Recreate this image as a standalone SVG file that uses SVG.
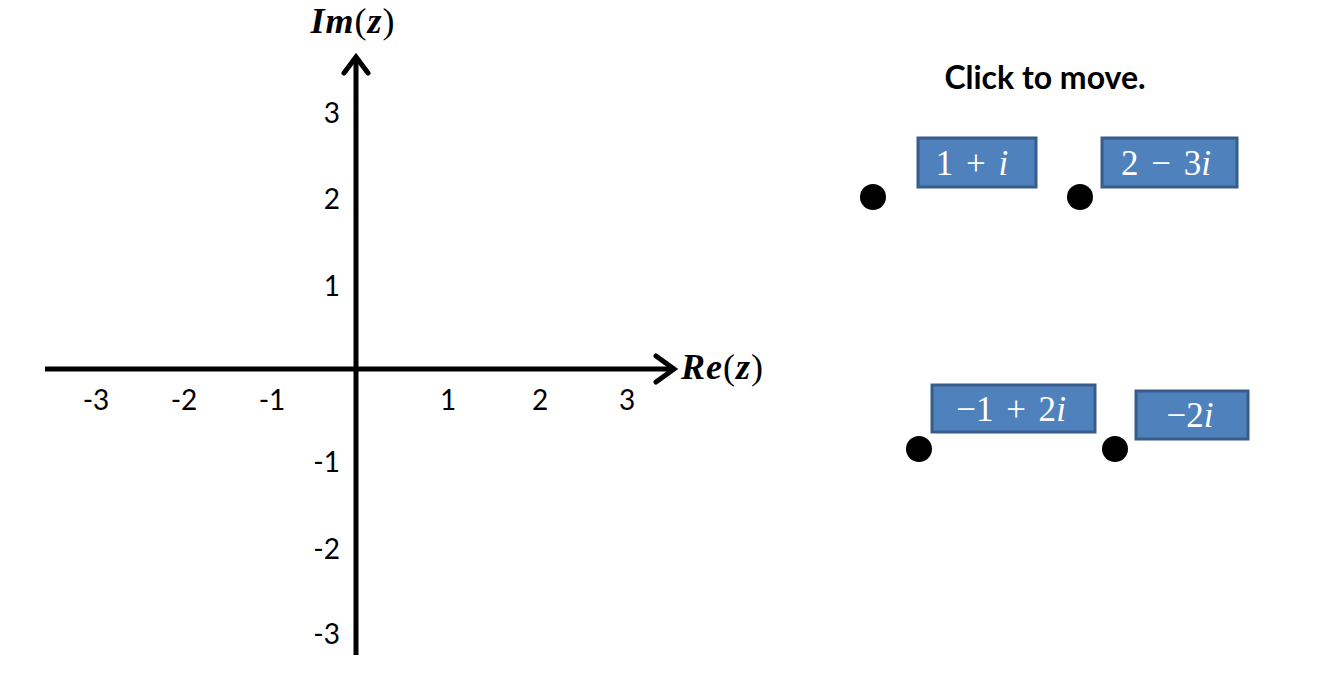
<svg xmlns="http://www.w3.org/2000/svg" width="1334" height="680" viewBox="0 0 1334 680">
<style>
.axis{stroke:#000;stroke-width:5;fill:none;stroke-linecap:butt}
.head{stroke:#000;stroke-width:5;fill:none;stroke-linecap:round;stroke-linejoin:miter}
.tick{font-family:Lato,"Liberation Sans",sans-serif;font-size:28px;fill:#000}
.math{font-family:"Liberation Serif","DejaVu Serif",serif;font-style:italic;font-weight:bold;font-size:36px;fill:#000;letter-spacing:1px}
.p{font-weight:normal;font-style:normal}
.box{fill:#4F81BD;stroke:#385D8A;stroke-width:3}
.bt{font-family:"Liberation Serif","DejaVu Serif",serif;font-size:35px;fill:#fff;text-anchor:middle;word-spacing:4px}
.dot{fill:#000}
</style>
<rect width="1334" height="680" fill="#fff"/>
<g id="connectors">
<line class="axis" x1="45" y1="369" x2="674" y2="369"/>
<polyline class="head" points="656,356 674,369 656,382"/>
<line class="axis" x1="356" y1="655" x2="356" y2="57"/>
<polyline class="head" points="344,73 356,57 368,73"/>
</g>
<g id="axis-labels">
<text class="math" x="353" y="33" text-anchor="middle">Im<tspan class="p">(</tspan>z<tspan class="p">)</tspan></text>
<text class="math" x="681" y="379">Re<tspan class="p">(</tspan>z<tspan class="p">)</tspan></text>
</g>
<g id="x-ticks" class="tick" text-anchor="middle">
<text x="96" y="410">-3</text>
<text x="184" y="410">-2</text>
<text x="272" y="410">-1</text>
<text x="448" y="410">1</text>
<text x="540" y="410">2</text>
<text x="627" y="410">3</text>
</g>
<g id="y-ticks" class="tick" text-anchor="end">
<text x="340" y="123">3</text>
<text x="340" y="209">2</text>
<text x="340" y="296">1</text>
<text x="340" y="472">-1</text>
<text x="340" y="559">-2</text>
<text x="340" y="644">-3</text>
</g>
<g id="title">
<text x="1045" y="89" text-anchor="middle" font-family="Lato,'Open Sans',sans-serif" font-weight="bold" font-size="32">Click to move.</text>
</g>
<g id="node-1">
<circle class="dot" cx="873" cy="197" r="13"/>
<rect class="box" x="918" y="138" width="118" height="49"/>
<text class="bt" x="972" y="175">1 + <tspan font-style="italic">i</tspan></text>
</g>
<g id="node-2">
<circle class="dot" cx="1080" cy="197" r="13"/>
<rect class="box" x="1102" y="138" width="135" height="49"/>
<text class="bt" x="1166" y="175">2 − 3<tspan font-style="italic">i</tspan></text>
</g>
<g id="node-3">
<circle class="dot" cx="919" cy="449" r="13"/>
<rect class="box" x="932" y="385" width="163" height="47"/>
<text class="bt" x="1011" y="421">−1 + 2<tspan font-style="italic">i</tspan></text>
</g>
<g id="node-4">
<circle class="dot" cx="1115" cy="449" r="13"/>
<rect class="box" x="1136" y="391" width="112" height="48"/>
<text class="bt" x="1190" y="427">−2<tspan font-style="italic">i</tspan></text>
</g>
</svg>
